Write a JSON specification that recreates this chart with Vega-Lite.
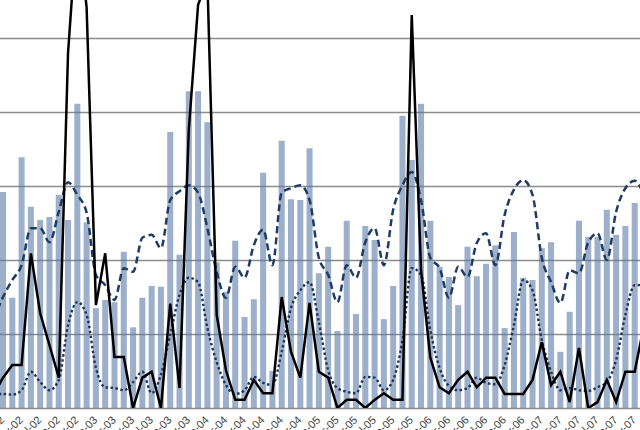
{
  "$schema": "https://vega.github.io/schema/vega-lite/v6.json",
  "width": 640,
  "height": 408,
  "autosize": {"type": "none"},
  "padding": {"left": 0, "right": 0, "top": 0, "bottom": 22},
  "background": "white",
  "config": {"view": {"stroke": null}},
  "data": {"values": [
    {"d":"Feb-02","b":240,"s":18,"h":119,"t":18},
    {"d":"Mar-02","b":292,"s":41,"h":150,"t":19},
    {"d":"Apr-02","b":149,"s":58,"h":173,"t":18},
    {"d":"May-02","b":339,"s":58,"h":193,"t":24},
    {"d":"Jun-02","b":272,"s":209,"h":243,"t":49},
    {"d":"Jul-02","b":254,"s":128,"h":243,"t":35},
    {"d":"Aug-02","b":258,"s":85,"h":224,"t":24},
    {"d":"Sep-02","b":288,"s":41,"h":265,"t":38},
    {"d":"Oct-02","b":254,"s":480,"h":305,"t":112},
    {"d":"Nov-02","b":411,"s":659,"h":288,"t":143},
    {"d":"Dec-02","b":251,"s":541,"h":264,"t":126},
    {"d":"Jan-03","b":135,"s":139,"h":180,"t":54},
    {"d":"Feb-03","b":146,"s":209,"h":166,"t":28},
    {"d":"Mar-03","b":143,"s":69,"h":146,"t":27},
    {"d":"Apr-03","b":211,"s":69,"h":189,"t":24},
    {"d":"May-03","b":109,"s":0,"h":184,"t":35},
    {"d":"Jun-03","b":149,"s":41,"h":230,"t":49},
    {"d":"Jul-03","b":165,"s":49,"h":234,"t":20},
    {"d":"Aug-03","b":164,"s":0,"h":216,"t":45},
    {"d":"Sep-03","b":373,"s":141,"h":281,"t":99},
    {"d":"Oct-03","b":207,"s":27,"h":293,"t":153},
    {"d":"Nov-03","b":428,"s":376,"h":301,"t":176},
    {"d":"Dec-03","b":428,"s":545,"h":291,"t":170},
    {"d":"Jan-04","b":386,"s":578,"h":243,"t":108},
    {"d":"Feb-04","b":197,"s":126,"h":184,"t":62},
    {"d":"Mar-04","b":157,"s":51,"h":149,"t":31},
    {"d":"Apr-04","b":226,"s":11,"h":191,"t":19},
    {"d":"May-04","b":123,"s":11,"h":176,"t":24},
    {"d":"Jun-04","b":147,"s":38,"h":220,"t":42},
    {"d":"Jul-04","b":318,"s":20,"h":241,"t":34},
    {"d":"Aug-04","b":50,"s":20,"h":193,"t":31},
    {"d":"Sep-04","b":361,"s":150,"h":291,"t":76},
    {"d":"Oct-04","b":282,"s":76,"h":297,"t":135},
    {"d":"Nov-04","b":281,"s":41,"h":301,"t":159},
    {"d":"Dec-04","b":351,"s":142,"h":281,"t":170},
    {"d":"Jan-05","b":182,"s":49,"h":203,"t":116},
    {"d":"Feb-05","b":218,"s":41,"h":180,"t":51},
    {"d":"Mar-05","b":104,"s":0,"h":143,"t":27},
    {"d":"Apr-05","b":253,"s":11,"h":193,"t":22},
    {"d":"May-05","b":127,"s":11,"h":176,"t":20},
    {"d":"Jun-05","b":246,"s":0,"h":224,"t":42},
    {"d":"Jul-05","b":227,"s":11,"h":243,"t":41},
    {"d":"Aug-05","b":120,"s":20,"h":193,"t":24},
    {"d":"Sep-05","b":165,"s":11,"h":268,"t":38},
    {"d":"Oct-05","b":395,"s":11,"h":301,"t":92},
    {"d":"Nov-05","b":335,"s":531,"h":319,"t":189},
    {"d":"Dec-05","b":411,"s":186,"h":281,"t":180},
    {"d":"Jan-06","b":253,"s":68,"h":203,"t":105},
    {"d":"Feb-06","b":191,"s":28,"h":189,"t":54},
    {"d":"Mar-06","b":177,"s":20,"h":149,"t":30},
    {"d":"Apr-06","b":139,"s":38,"h":191,"t":24},
    {"d":"May-06","b":218,"s":49,"h":177,"t":27},
    {"d":"Jun-06","b":178,"s":28,"h":223,"t":41},
    {"d":"Jul-06","b":195,"s":41,"h":236,"t":34},
    {"d":"Aug-06","b":220,"s":41,"h":193,"t":32},
    {"d":"Sep-06","b":108,"s":19,"h":261,"t":58},
    {"d":"Oct-06","b":238,"s":19,"h":295,"t":112},
    {"d":"Nov-06","b":176,"s":19,"h":308,"t":173},
    {"d":"Dec-06","b":173,"s":38,"h":288,"t":159},
    {"d":"Jan-07","b":216,"s":89,"h":203,"t":92},
    {"d":"Feb-07","b":224,"s":31,"h":170,"t":49},
    {"d":"Mar-07","b":76,"s":49,"h":142,"t":24},
    {"d":"Apr-07","b":130,"s":8,"h":186,"t":27},
    {"d":"May-07","b":253,"s":81,"h":182,"t":24},
    {"d":"Jun-07","b":231,"s":0,"h":224,"t":23},
    {"d":"Jul-07","b":231,"s":8,"h":236,"t":28},
    {"d":"Aug-07","b":268,"s":38,"h":200,"t":35},
    {"d":"Sep-07","b":234,"s":8,"h":265,"t":65},
    {"d":"Oct-07","b":246,"s":49,"h":297,"t":126},
    {"d":"Nov-07","b":277,"s":49,"h":307,"t":166},
    {"d":"Dec-07","b":281,"s":112,"h":288,"t":166}
  ]},
  "encoding": {
    "x": {
      "field": "d", "type": "ordinal", "sort": null,
      "scale": {"type": "band", "range": [-9.29, 647.0], "paddingInner": 0.35, "paddingOuter": 0},
      "axis": {
        "title": null, "grid": false, "ticks": false,
        "domain": true, "domainColor": "#8c8c8c", "domainWidth": 1.5,
        "labelAngle": -45, "labelAlign": "right", "labelBaseline": "middle",
        "labelPadding": 10, "labelFont": "Liberation Sans", "labelFontSize": 11,
        "labelColor": "#404040", "labelOverlap": false,
        "values": ["Mar-02","May-02","Jul-02","Sep-02","Nov-02",
                   "Jan-03","Mar-03","May-03","Jul-03","Sep-03","Nov-03",
                   "Jan-04","Mar-04","May-04","Jul-04","Sep-04","Nov-04",
                   "Jan-05","Mar-05","May-05","Jul-05","Sep-05","Nov-05",
                   "Jan-06","Mar-06","May-06","Jul-06","Sep-06","Nov-06",
                   "Jan-07","Mar-07","May-07","Jul-07","Sep-07","Nov-07"]
      }
    }
  },
  "layer": [
    {
      "mark": {"type": "bar", "color": "#5b7ba8", "opacity": 0.6, "clip": true},
      "encoding": {
        "y": {
          "field": "b", "type": "quantitative",
          "scale": {"domain": [0, 551.35], "nice": false, "zero": true},
          "axis": {
            "title": null, "labels": false, "ticks": false, "domain": false,
            "grid": true, "gridColor": "#8c8c8c", "gridWidth": 1.5,
            "values": [100, 200, 300, 400, 500]
          }
        }
      }
    },
    {
      "mark": {"type": "line", "clip": true, "color": "#1f3458", "strokeWidth": 2.4, "strokeDash": [2.5, 2.5], "interpolate": "monotone"},
      "encoding": {"y": {"field": "t", "type": "quantitative"}}
    },
    {
      "mark": {"type": "line", "clip": true, "color": "#1f3b63", "strokeWidth": 2.5, "strokeDash": [7, 4], "interpolate": "monotone"},
      "encoding": {"y": {"field": "h", "type": "quantitative"}}
    },
    {
      "mark": {"type": "line", "clip": true, "color": "#000000", "strokeWidth": 2.5},
      "encoding": {"y": {"field": "s", "type": "quantitative"}}
    }
  ]
}
